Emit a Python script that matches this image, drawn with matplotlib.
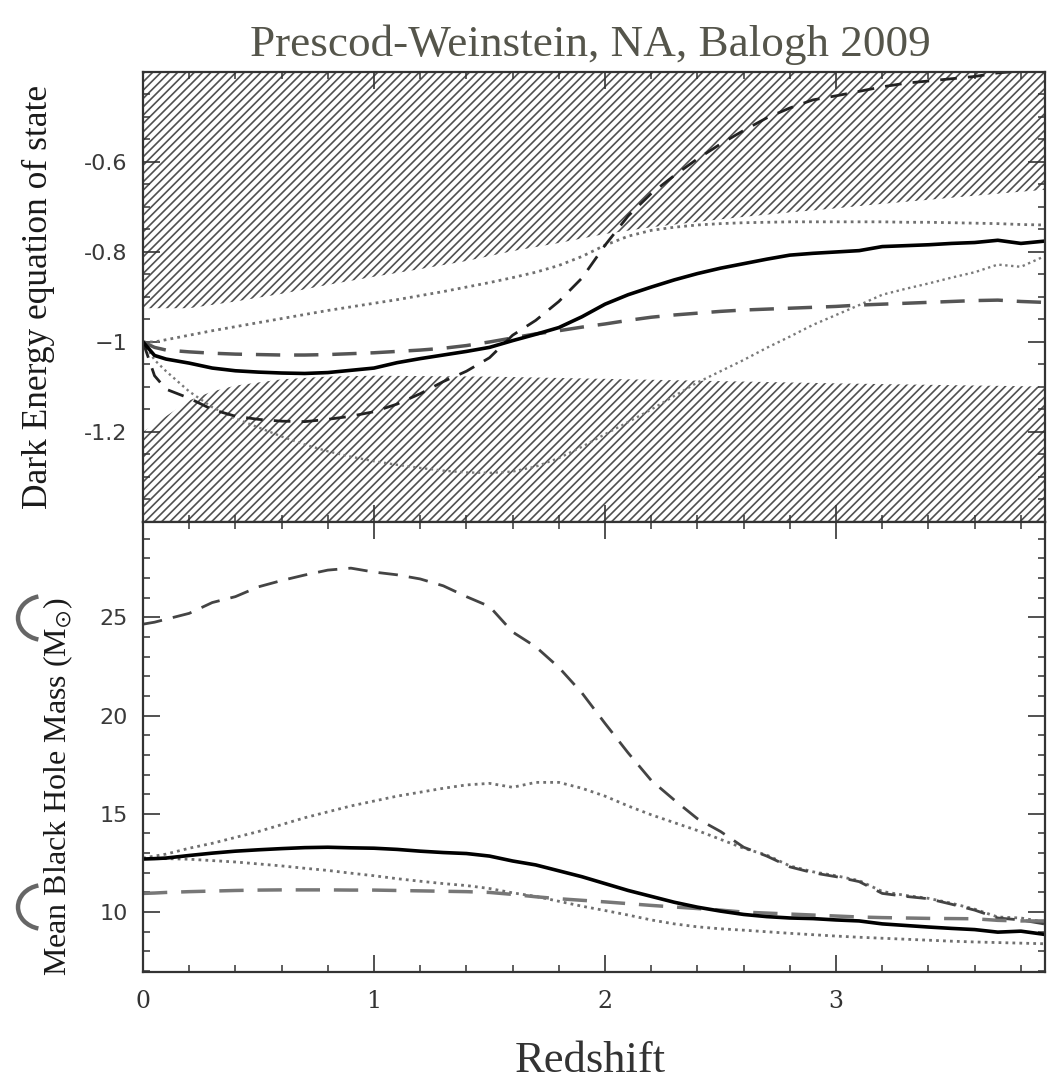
import matplotlib
matplotlib.use("Agg")
import matplotlib.pyplot as plt
from matplotlib.patches import Arc
from matplotlib.ticker import MultipleLocator, FixedLocator, FixedFormatter

# redshift grid shared by all curves
z = [0, 0.05, 0.1, 0.2, 0.3, 0.4, 0.5, 0.6, 0.7, 0.8, 0.9, 1.0, 1.1, 1.2, 1.3,
     1.4, 1.5, 1.6, 1.7, 1.8, 1.9, 2.0, 2.1, 2.2, 2.3, 2.4, 2.5, 2.6, 2.7, 2.8,
     2.9, 3.0, 3.1, 3.2, 3.3, 3.4, 3.5, 3.6, 3.7, 3.8, 3.9]

# excluded regions (hatched) in the w panel
z_bound_up = [0, 0.2, 0.4, 0.6, 0.8, 1.0, 1.2, 1.4, 1.6, 1.8, 2.0, 2.2, 2.4,
              2.6, 2.8, 3.0, 3.2, 3.4, 3.6, 3.8, 3.9]
w_bound_up = [-0.925, -0.925, -0.91, -0.893, -0.873, -0.855, -0.838, -0.82,
              -0.798, -0.78, -0.76, -0.745, -0.733, -0.722, -0.712, -0.703,
              -0.693, -0.684, -0.675, -0.666, -0.662]
z_bound_low = [0, 0.1, 0.2, 0.3, 0.4, 0.6, 0.8, 1.0, 1.5, 2.0, 2.5, 3.0, 3.5, 3.9]
w_bound_low = [-1.2, -1.165, -1.13, -1.11, -1.097, -1.083, -1.077, -1.075,
               -1.077, -1.082, -1.087, -1.092, -1.096, -1.099]

# dark energy equation of state
w_solid = [-1.0, -1.03, -1.038, -1.047, -1.058, -1.064, -1.067, -1.069, -1.07,
           -1.068, -1.063, -1.058, -1.046, -1.037, -1.029, -1.021, -1.012,
           -0.997, -0.983, -0.968, -0.944, -0.916, -0.895, -0.878, -0.862,
           -0.848, -0.836, -0.826, -0.816, -0.807, -0.803, -0.8, -0.797,
           -0.788, -0.786, -0.784, -0.781, -0.779, -0.774, -0.781, -0.776]
w_dash_dark = [-1.0, -1.075, -1.105, -1.125, -1.15, -1.165, -1.172, -1.176,
               -1.177, -1.172, -1.165, -1.155, -1.138, -1.115, -1.088, -1.065,
               -1.035, -0.985, -0.952, -0.91, -0.858, -0.785, -0.72, -0.67,
               -0.63, -0.593, -0.56, -0.53, -0.502, -0.48, -0.462, -0.453,
               -0.443, -0.433, -0.425, -0.42, -0.415, -0.41, -0.402, -0.398,
               -0.392]
w_dash_gray = [-1.0, -1.012, -1.018, -1.022, -1.025, -1.027, -1.028, -1.029,
               -1.029, -1.028, -1.026, -1.024, -1.021, -1.018, -1.014, -1.008,
               -1.0, -0.991, -0.982, -0.975, -0.967, -0.96, -0.952, -0.945,
               -0.94, -0.936, -0.932, -0.929, -0.927, -0.925, -0.923, -0.921,
               -0.918, -0.916, -0.914, -0.912, -0.91, -0.908, -0.907, -0.91,
               -0.912]
w_dot_up = [-1.0, -1.0, -0.995, -0.985, -0.975, -0.966, -0.957, -0.948, -0.939,
            -0.93, -0.922, -0.914, -0.906, -0.897, -0.888, -0.878, -0.868,
            -0.857, -0.845, -0.83, -0.81, -0.785, -0.765, -0.752, -0.745,
            -0.74, -0.737, -0.735, -0.734, -0.733, -0.733, -0.733, -0.733,
            -0.733, -0.734, -0.734, -0.735, -0.736, -0.737, -0.739, -0.74]
w_dot_low = [-1.0, -1.04, -1.065, -1.11, -1.145, -1.17, -1.19, -1.21, -1.228,
             -1.243, -1.255, -1.265, -1.273, -1.28, -1.286, -1.29, -1.291,
             -1.288, -1.277, -1.258, -1.233, -1.205, -1.178, -1.15, -1.12,
             -1.09, -1.065, -1.04, -1.013, -0.988, -0.962, -0.94, -0.918,
             -0.895, -0.882, -0.87, -0.857, -0.845, -0.828, -0.833, -0.81]

# mean black hole mass (solar masses)
m_dash_up = [24.65, 24.75, 24.9, 25.2, 25.75, 26.05, 26.55, 26.87, 27.15, 27.4,
             27.5, 27.3, 27.16, 26.95, 26.6, 26.05, 25.55, 24.25, 23.5, 22.45,
             21.15, 19.6, 18.1, 16.7, 15.7, 14.75, 14.1, 13.3, 12.85, 12.3,
             12.0, 11.8, 11.55, 10.95, 10.8, 10.68, 10.4, 10.1, 9.7, 9.6, 9.4]
m_dot_up = [12.75, 12.85, 12.95, 13.25, 13.5, 13.8, 14.1, 14.45, 14.8, 15.1,
            15.4, 15.65, 15.9, 16.1, 16.3, 16.47, 16.55, 16.35, 16.6, 16.6,
            16.3, 15.9, 15.4, 14.95, 14.55, 14.15, 13.7, 13.25, 12.9, 12.35,
            12.05, 11.85, 11.6, 11.05, 10.85, 10.7, 10.45, 10.15, 9.75, 9.7,
            9.5]
m_solid = [12.7, 12.72, 12.75, 12.88, 13.0, 13.1, 13.17, 13.23, 13.28, 13.3,
           13.27, 13.25, 13.19, 13.1, 13.03, 12.98, 12.85, 12.6, 12.4, 12.1,
           11.8, 11.45, 11.1, 10.8, 10.5, 10.25, 10.05, 9.88, 9.77, 9.7, 9.67,
           9.6, 9.55, 9.4, 9.32, 9.24, 9.17, 9.11, 8.98, 9.03, 8.87]
m_dot_low = [12.73, 12.72, 12.72, 12.69, 12.62, 12.55, 12.45, 12.35, 12.23,
             12.12, 11.98, 11.85, 11.7, 11.57, 11.45, 11.35, 11.2, 10.98, 10.8,
             10.55, 10.3, 10.08, 9.85, 9.6, 9.4, 9.25, 9.15, 9.08, 9.0, 8.92,
             8.85, 8.78, 8.72, 8.67, 8.62, 8.57, 8.52, 8.48, 8.45, 8.42, 8.39]
m_dash_low = [10.95, 10.97, 11.0, 11.04, 11.07, 11.1, 11.12, 11.13, 11.13,
              11.13, 11.12, 11.12, 11.1, 11.08, 11.06, 11.04, 11.0, 10.9, 10.78,
              10.68, 10.6, 10.52, 10.43, 10.34, 10.26, 10.18, 10.1, 10.0, 9.95,
              9.9, 9.85, 9.8, 9.75, 9.72, 9.7, 9.68, 9.67, 9.66, 9.58, 9.55,
              9.55]

x_ticks = [0, 1, 2, 3]
w_ticks = [-1.2, -1.0, -0.8, -0.6]
w_labels = ["-1.2", "\u22121", "-0.8", "-0.6"]
m_ticks = [10, 15, 20, 25]

plt.rcParams["mathtext.fontset"] = "stix"
plt.rcParams["hatch.linewidth"] = 1.2
plt.rcParams["hatch.color"] = "#505050"

fig = plt.figure(figsize=(10.63, 10.89), dpi=100)
ax1 = fig.add_axes([0.1345, 0.5207, 0.8485, 0.4132])
ax2 = fig.add_axes([0.1345, 0.1074, 0.8485, 0.4133])

frame = "#333333"
for ax in (ax1, ax2):
    for s in ax.spines.values():
        s.set_linewidth(1.6)
        s.set_color(frame)
    ax.set_xlim(0, 3.904)
    ax.xaxis.set_major_locator(FixedLocator(x_ticks))
    ax.xaxis.set_minor_locator(MultipleLocator(0.2))
    ax.tick_params(which="both", direction="in", top=True, right=True,
                   color=frame)
    ax.tick_params(which="major", length=12, width=1.2)
    ax.tick_params(which="minor", length=5, width=1.1)
    ax.tick_params(axis="y", labelsize=16, pad=11, labelcolor="#3a3a3a")

# --- top panel: w(z)
ax1.set_ylim(-1.4, -0.4)
ax1.fill_between(z_bound_up, w_bound_up, -0.3, facecolor="white",
                 edgecolor="#505050", hatch="////", linewidth=0)
ax1.fill_between(z_bound_low, w_bound_low, -1.5, facecolor="white",
                 edgecolor="#505050", hatch="////", linewidth=0)
ax1.plot(z, w_dot_up, color="#707070", lw=2.0, ls=(0, (1, 1.5)))
ax1.plot(z, w_dot_low, color="#7a7a7a", lw=1.7, ls=(0, (1, 1.5)))
ax1.plot(z, w_dash_gray, color="#555555", lw=2.5, ls=(0, (7, 4)))
ax1.plot(z, w_dash_dark, color="#222222", lw=2.0, ls=(0, (6, 4)))
ax1.plot(z, w_solid, color="black", lw=2.6)
ax1.yaxis.set_major_locator(FixedLocator(w_ticks))
ax1.yaxis.set_major_formatter(FixedFormatter(w_labels))
ax1.yaxis.set_minor_locator(MultipleLocator(0.05))
ax1.tick_params(axis="x", labelbottom=False)

# --- bottom panel: black hole mass
ax2.set_ylim(6.95, 29.85)
ax2.plot(z, m_dot_up, color="#707070", lw=2.0, ls=(0, (1, 1.5)))
ax2.plot(z, m_dot_low, color="#707070", lw=2.0, ls=(0, (1, 1.5)))
ax2.plot(z, m_dash_up, color="#444444", lw=2.0, ls=(0, (7, 4)))
ax2.plot(z, m_dash_low, color="#777777", lw=2.5, ls=(0, (7, 4)))
ax2.plot(z, m_solid, color="black", lw=2.6)
ax2.yaxis.set_major_locator(FixedLocator(m_ticks))
ax2.yaxis.set_minor_locator(MultipleLocator(1))
ax2.tick_params(axis="x", labelsize=17, pad=13, labelcolor="#333333")

for ax in (ax1, ax2):
    for lab in ax.get_yticklabels():
        lab.set_family("DejaVu Sans")
for lab in ax2.get_xticklabels():
    lab.set_family("DejaVu Serif")

fig.text(0.5555, 1 - 45 / 1089, "Prescod-Weinstein, NA, Balogh 2009",
         family="Liberation Serif", fontsize=32.5, color="#55554b",
         ha="center", va="center")
fig.text(0.555, 1 - 1061 / 1089, "Redshift", family="Liberation Serif",
         fontsize=32, color="#333333", ha="center", va="center")
fig.text(38 / 1063, 1 - 297 / 1089, "Dark Energy equation of state",
         family="Liberation Serif", fontsize=25.5, color="#1a1a1a",
         rotation=90, ha="center", va="center")
fig.text(58 / 1063, 1 - 787 / 1089, r"Mean Black Hole Mass (M$_{\odot}$)",
         family="Liberation Serif", fontsize=23, color="#1a1a1a",
         rotation=90, ha="center", va="center")

# clipped remnants of neighbouring slide glyphs at the left edge
for yc in (618, 907):
    fig.patches.append(Arc((44 / 1063, 1 - yc / 1089), 52 / 1063, 44 / 1089,
                           theta1=105, theta2=255, lw=3.2, color="#666666",
                           transform=fig.transFigure))

fig.savefig("out.png", dpi=100)
